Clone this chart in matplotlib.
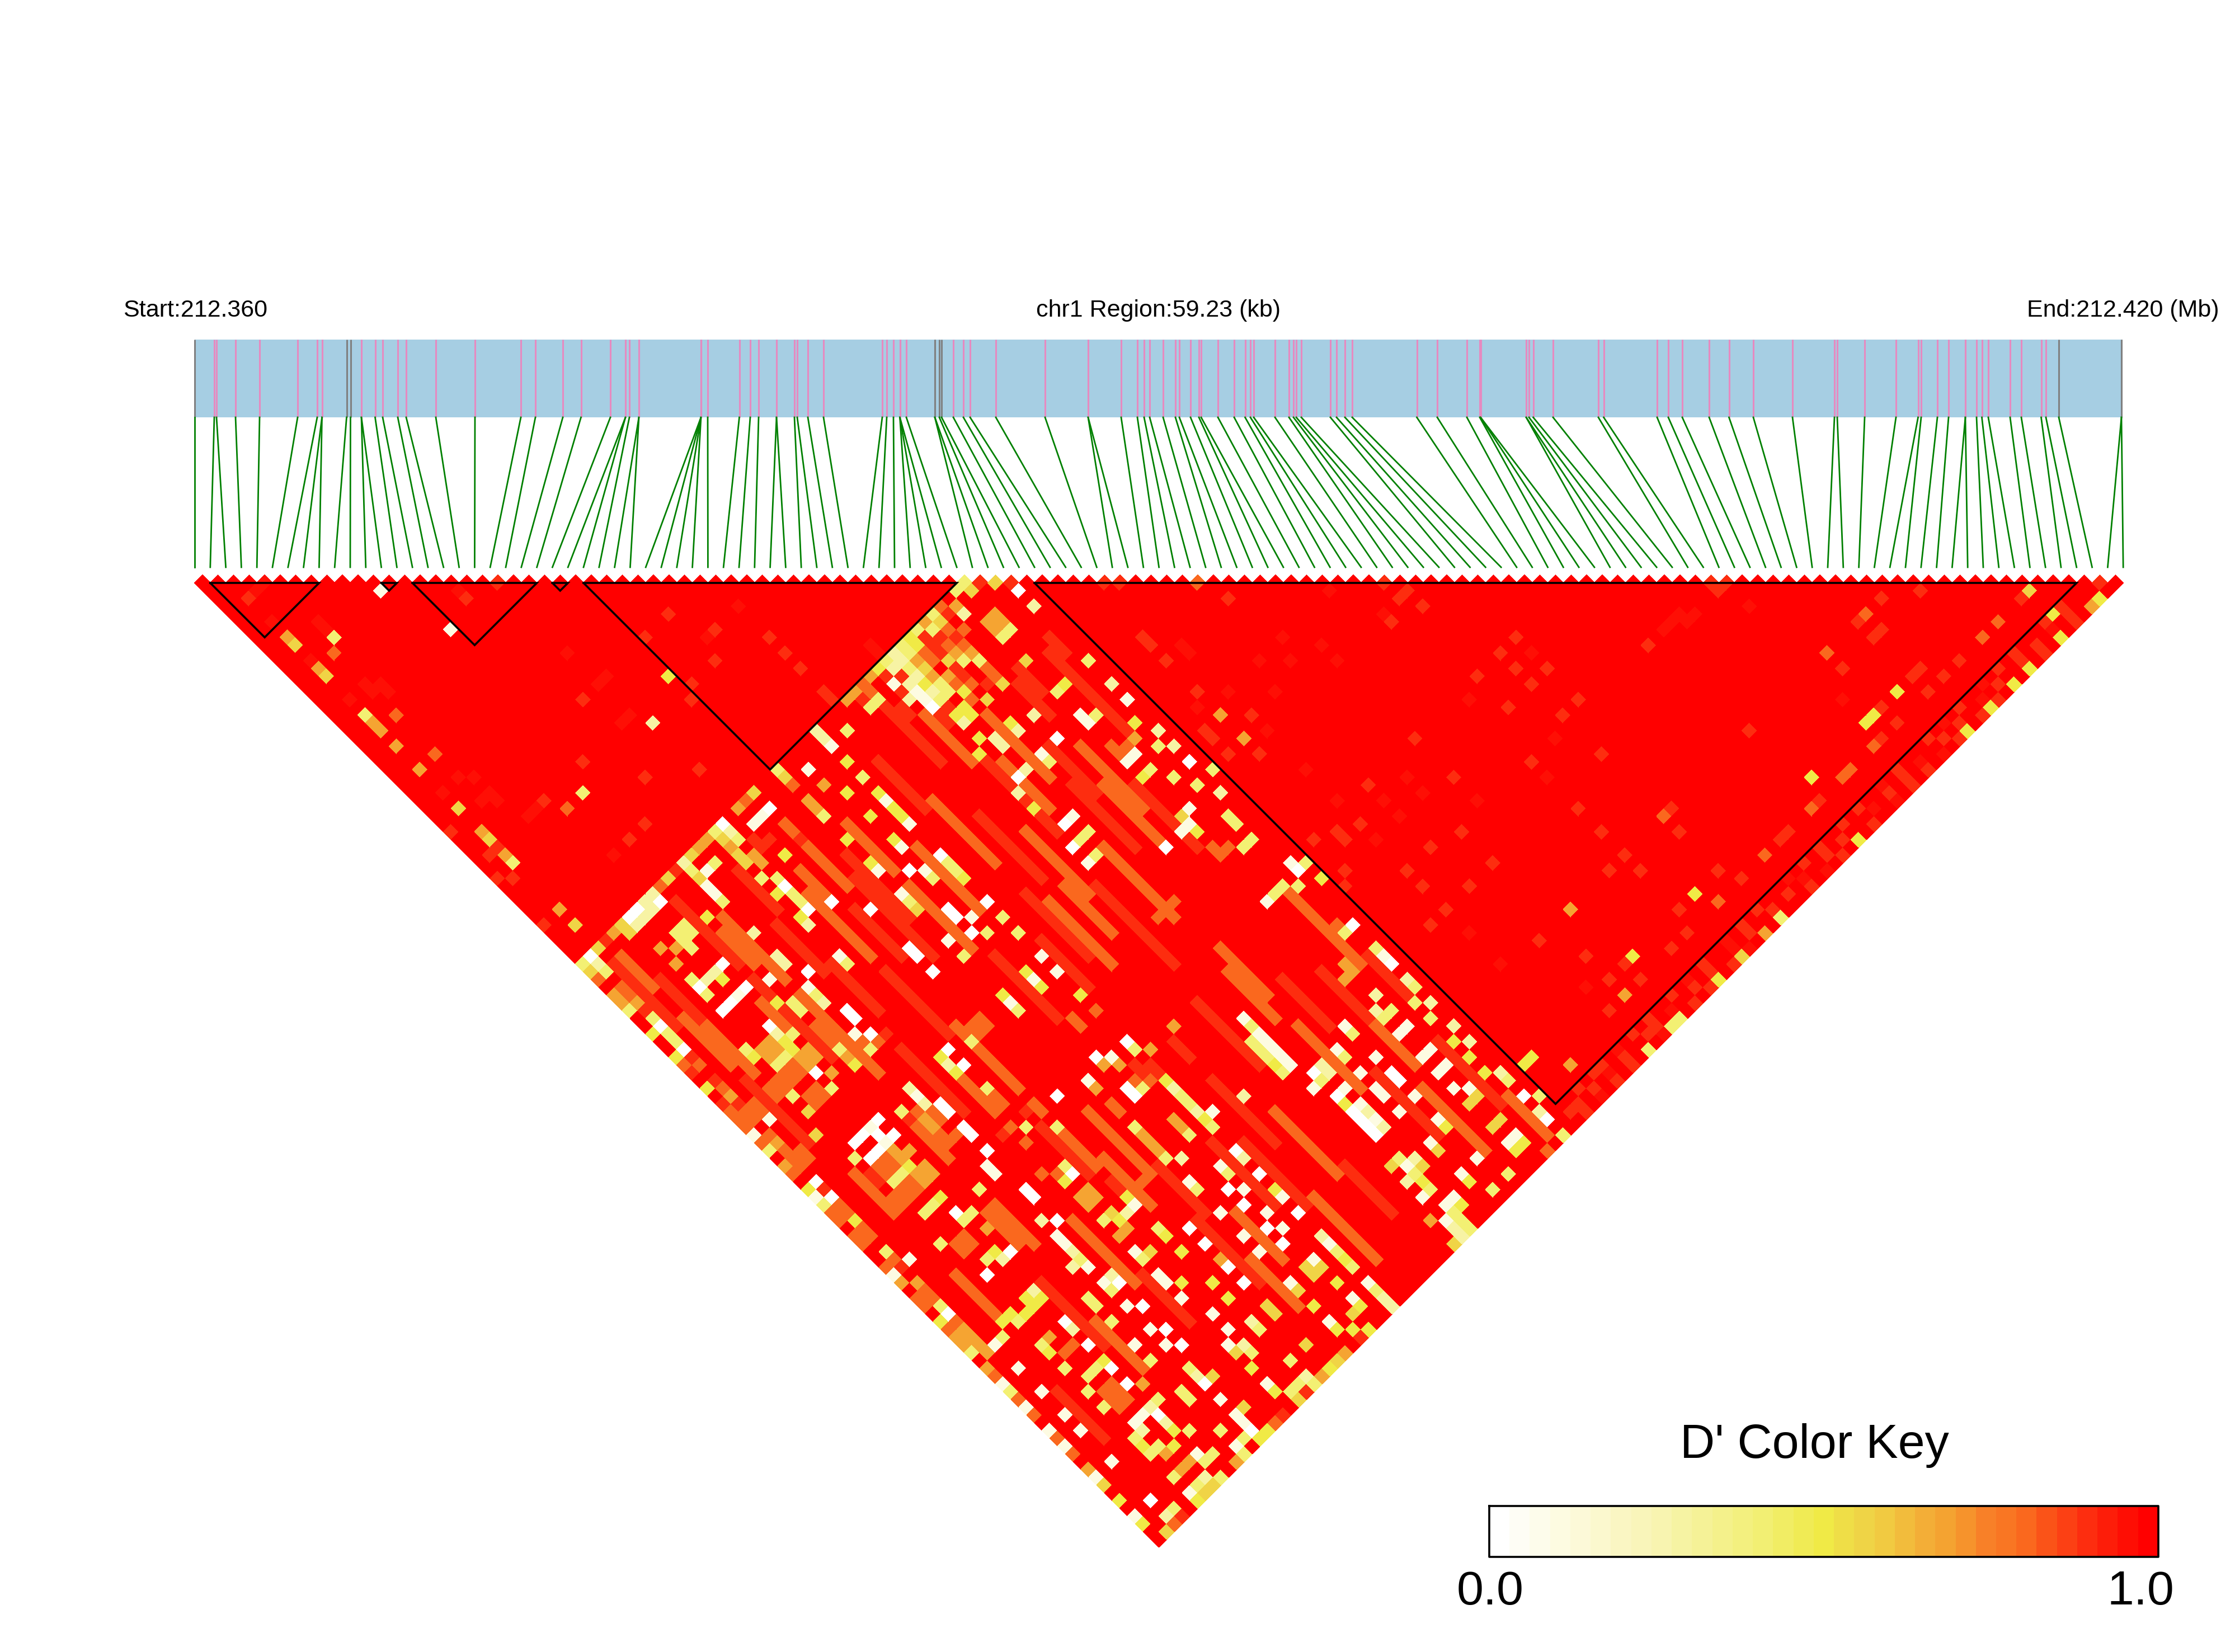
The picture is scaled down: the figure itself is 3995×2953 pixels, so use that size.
import numpy as np
import matplotlib
matplotlib.use("Agg")
import matplotlib.pyplot as plt
from matplotlib.collections import PolyCollection
from matplotlib.colors import LinearSegmentedColormap, Normalize

plt.rcParams['font.family'] = ['Liberation Sans', 'DejaVu Sans']

# All D' values below are estimates.
N_SNP = 125
REGION_LABEL = "chr1 Region:59.23 (kb)"
START_LABEL = "Start:212.360"
END_LABEL = "End:212.420 (Mb)"

# SNP positions along the region, in bar units (0 .. 3446)
SNP_POS = [0,35,39,73,116,184,219,227.5,227.5,271.5,278.5,298,298,322.5,336,363,378,431,501,583,609,658,690.5,743,770,770,777,794,794,905,905,905,905,917,
973.5,993,1008,1040,1040,1072,1077,1096,1124,1229,1237,1249,1260.5,1260.5,1260.5,1272,
1323,1323,1331,1335,1356,1374,1386,1432,1520,1597,1597,1656,1685,1697,1707,1731,1753,1760,1780,1795,1799,1829,1858,1877.5,1887,1893,1931,1956,1964,1969,1978,2030,2041,2056,2069,2184.5,2221,2274,2297,2298.5,2298.5,
2380,2380,2385,2392.5,2428,2509,2518.5,2614,2634,2659,2707,2742.5,2786,2856,2931,2936,2985,3041,3080.5,3086,3115,3135,3165,3165,3185,3194.5,3206,3245,3265,3300.5,3309,3332,3444,3444]
GRAY_SNPS = [0,9,10,50,51,52,53,122,123,124]

# LD blocks: first and last SNP index
BLOCKS = [(1,8),(12,13),(14,22),(23,24),(25,49),(54,121)]

# Code -> D'
LEVELS = {'.':1.0,'9':.95,'8':.89,'7':.79,'6':.67,'5':.57,'4':.5,'3':.42,'2':.28,'1':.1,'0':0.0}

# D' codes for SNP 0 and SNP 1 against SNP j = 50..124 (read cell by cell along the lower-left edge)
EDGE_ROWS = [
"357.663..4 ..478.4.87 77173.67.4 1377.77..7 16.77.4766 3.6713717. 1717.615.4 .14..",
"023.776830 3308 7.8 7 68 77.767 87.0 8 077 4 7 7.3 78 .677 3 07 66 66",
]

# Stripes along one SNP: "i,j0,j1,code"
MID_RUNS = """
11,81,81,8 11,82,86,7 12,81,81,7 12,82,83,6 12,84,85,7 13,82,83,7 13,85,85,7 17,82,84,7 17,85,86,7 18,85,86,7 20,81,86,7 20,78,80,7 21,79,80,7 22,79,80,7
4,81,84,7 5,82,83,8 4,85,86,7 5,85,86,7 8,85,86,6 9,85,86,6 6,85,86,7 7,85,86,7 8,82,83,6 7,82,83,7 6,82,83,7 6,92,93,7 7,92,93,7 9,93,93,6 10,92,96,7 11,92,97,7
20,88,89,7 19,88,88,8 16,88,88,8 17,88,88,7 17,90,90,7 16,93,93,7 17,94,94,7 1,74,74,6 1,76,77,7 2,76,77,7 4,76,76,5
28,85,86,7 30,86,86,7 34,92,92,6 33,93,95,8 28,93,93,7 29,92,93,8 29,94,94,7 30,93,94,8 31,92,92,6 25,93,94,7 28,98,99,6 25,97,100,6 20,92,96,7 20,98,99,8
17,97,98,6 18,97,98,6 17,100,100,3 18,100,100,5 18,101,101,4 19,101,101,2 20,101,101,1 20,100,100,4 22,100,100,7 17,102,102,6 18,102,102,6 22,110,110,6
6,111,112,7 7,111,113,7 6,113,113,7 6,104,104,6 7,106,106,7 6,106,106,7 6,119,119,6 7,121,121,6 6,121,121,6
20,58,62,7 11,57,61,7 17,53,54,5 18,54,55,6 25,54,55,6 25,52,52,7 51,59,61,8 48,70,71,7 49,71,71,7 50,71,71,6 48,83,84,7 49,84,84,7 51,96,96,7 49,99,100,6 48,100,100,6 50,100,100,6 41,85,85,7 40,84,84,7 42,84,84,7
10,52,60,8 12,56,64,7 16,66,72,8 19,70,78,8 21,64,70,8 24,60,68,8 26,58,64,7 29,64,72,7 32,56,62,8 33,62,70,7 35,66,74,8 37,70,78,7 42,60,68,7 44,66,72,8 46,68,76,7 47,74,82,8
34,76,84,7 31,78,84,8 23,92,100,7 24,100,106,8 15,98,106,7 16,106,112,8 9,100,108,8 10,106,112,7 3,108,114,8 4,94,100,7 3,60,66,7 4,56,62,8 2,52,60,8 3,52,56,7
42,90,96,7 44,96,102,8 47,104,110,7 50,60,70,8 50,90,100,7 51,100,106,8 36,54,60,8 38,56,62,7 43,52,56,8 45,54,58,7 46,60,64,8 15,76,84,8 19,90,96,8 21,96,102,7
23,106,114,8 24,112,118,7 26,108,114,7 29,102,110,8 31,104,112,8 32,112,120,7 33,98,106,8 35,104,112,7 36,112,118,8 37,92,100,8 41,92,98,7 42,100,108,7 44,108,116,8 46,112,120,7 47,98,104,8 50,110,118,8 51,118,123,7
47,59,62,8 36,55,60,8 39,63,72,8 40,64,70,7 41,76,84,7 43,70,78,8 45,72,80,7 38,78,88,8 36,76,82,7 33,74,82,8 27,76,84,8 26,66,74,7 23,62,72,8 22,54,62,7 19,60,68,7 16,54,58,8 15,60,66,8 12,66,76,7 10,62,72,8 9,64,68,7 3,68,76,8 4,62,68,7
"""

# Individual light cells in the same block: "i,j,code"
MID_SPOTS = """
8,66,0 8,67,2 8,68,4 8,69,4 9,68,3 5,66,3 5,67,4 6,67,6 7,67,6 6,68,6 7,68,6 6,69,3 7,69,3 7,70,7 6,70,7 7,71,7 6,71,7
8,70,6 9,71,6 9,70,6 8,71,6 8,72,0 9,73,6 8,74,3 4,70,7 5,71,7 5,70,7 4,71,7 5,72,3 5,74,5 7,73,7 6,73,7 7,74,7 6,74,7
2,71,7 2,70,7 2,72,1 14,70,0 14,71,0 13,72,1 14,73,0 14,74,7 13,73,7 13,74,3 15,74,8
11,69,7 11,70,7 11,71,7 11,72,3 11,73,6 11,74,4 11,67,3
18,79,0 17,79,4 17,80,2 18,81,0 17,81,4 20,80,3 13,79,2 13,80,1 13,81,2 14,82,0 14,83,0 14,85,0 14,86,0 18,84,3 18,89,3 22,89,0 20,91,3
11,80,3 9,79,0 8,79,1 7,79,0 6,79,0 8,80,0 9,81,0 8,81,1 7,81,0 6,81,0 5,80,3 9,83,6 8,84,4 7,84,3 6,84,3
8,88,4 7,88,3 6,88,3 8,90,0 8,91,3 9,91,3 14,88,0 13,89,1 13,90,1 11,90,3 14,93,0 14,94,0 5,91,3 8,95,4 7,95,3 6,96,0 8,96,2 9,96,0
8,100,2 8,101,4 7,100,4 7,101,4 5,100,4 5,101,2 6,101,4 13,96,2 14,97,0 13,98,1 2,90,1
22,106,0 22,108,0 30,90,0 27,89,0 28,90,1 25,90,1 27,93,0 27,94,0 30,95,4 30,96,2 28,94,3 25,96,3 30,97,3 30,98,3 30,99,2 30,100,4 30,101,3 31,100,1 28,100,3 25,100,3 26,101,2
30,104,0 30,105,2 30,107,0 30,109,4 30,110,1 30,112,0 28,104,1 28,105,3 27,106,0 28,107,1 27,108,0 25,107,1 25,103,1 25,104,3 28,110,1 27,111,0 28,112,1 27,113,0 25,110,1 25,112,1
30,115,2 30,116,1 30,117,3 30,118,4 30,119,3 28,116,1 27,116,5 28,117,5 27,117,5 28,119,4 25,116,1 25,117,5 30,121,1 30,122,3 30,123,2 30,124,2 28,121,1 28,122,4 27,122,5 25,119,4 25,121,1 25,122,4 26,123,4 27,124,4
39,98,1 39,99,1 39,100,1 39,101,1 39,102,1 38,98,3 38,99,3 38,100,3 38,101,4 38,102,3 39,96,1 39,97,3 40,104,0 41,104,2 41,105,2 39,105,1 40,105,3 40,107,0 41,107,1 43,107,1 45,103,1 45,104,3 43,104,1 43,105,3 45,107,1
40,108,4 40,109,0 41,109,1 43,109,1 41,111,1 40,111,0 45,109,0 39,115,5 34,101,2
20,104,3 20,105,4 20,107,4 17,104,1 17,105,3 18,105,5 20,111,4 20,113,4 17,107,1 18,109,4 22,111,0 22,113,0 13,104,1 14,105,0 14,104,2 13,105,3 11,104,3 11,105,3 13,107,1 14,108,0 11,107,3
13,110,1 14,111,0 17,108,1 17,110,1 13,99,1 13,100,2 13,101,3 13,102,1 12,101,2 8,104,0 8,105,2 22,116,5 22,117,5 20,116,2 20,117,3 18,115,1
5,101,3 4,100,4 6,101,4 8,107,0 8,109,4 8,110,0 7,109,3 6,109,3 8,112,0 9,113,6 13,112,1 14,113,0 11,110,1 11,112,3 18,113,1 17,116,1 18,117,2 18,118,3 17,117,5 17,119,4
22,121,5 20,121,3 17,121,1 17,122,4 20,123,2 19,123,3 18,123,3 13,115,3 13,116,2 13,117,0 11,116,3 11,117,3 14,117,5 13,119,1
9,115,3 8,115,2 8,116,0 7,115,1 6,115,1 5,116,3 6,116,2 8,117,2 8,118,4 9,119,3 6,118,3 5,118,3 5,117,4 7,119,4 8,121,1 9,122,3 8,122,3 5,121,3 7,123,2 6,123,3 5,123,1
13,121,1 13,122,1 13,123,0 12,123,3 11,123,1 11,121,3 14,121,5 2,107,1 2,110,1 2,112,1 2,104,1 5,107,3 5,110,3 5,112,3 5,104,3 5,105,4 2,101,1 3,101,3
2,116,1 2,121,0 3,123,3 2,123,2
18,50,0 18,51,2 18,52,3 17,50,3 17,51,5 17,52,6 16,50,6 15,50,6 14,50,5 13,50,2 13,51,3 13,52,5 12,50,8 11,50,5 10,50,7 9,50,2 8,50,2 7,50,0 9,51,0 8,51,2 7,51,2 6,50,0 5,50,5 6,51,2 5,51,5 4,50,6 3,50,8 2,50,5
15,52,3 14,52,1 8,54,3 9,55,3 9,54,3 8,55,3 6,54,6 7,55,6 8,56,3 18,58,0 18,57,3 17,58,4 18,59,3 18,60,3 18,61,0 17,61,4 17,62,2 20,62,0 17,56,3 6,56,6
13,53,1 13,54,1 13,55,3 11,55,4 13,59,2 13,62,2 13,63,2 11,63,1 14,65,0 13,66,1 13,67,3 13,68,2 17,66,1 17,67,3 6,59,0 7,59,2 9,59,0 8,59,2 6,62,0 7,62,0 8,62,1 9,62,0 6,60,3 8,60,4 6,58,3
22,50,5 21,50,7 20,50,6 22,52,0 21,52,1 20,52,1 25,50,3 25,51,5 25,56,3 27,52,1 30,54,4 30,51,2 30,52,1 30,50,2
52,101,1 52,104,2 52,105,3 52,107,2 51,106,3 51,108,3 52,110,2 51,111,4 52,112,2 51,113,4 51,115,4 52,116,2 52,117,3 52,119,0 53,120,3 52,121,2 52,122,0 52,124,3 50,124,7
49,103,2 48,104,2 48,105,3 49,105,3 49,107,1 48,107,1 49,110,1 48,110,1 49,112,1 48,112,1 45,110,0 45,112,1 43,110,1 43,112,1 40,112,0 41,112,2 40,110,0 41,110,2
45,115,1 45,116,4 43,116,1 43,117,5 49,115,1 48,114,1 49,116,5 48,116,5 48,119,5 49,119,5 49,121,1 48,121,1 49,122,4 48,122,4 45,120,1 46,123,3 44,123,3 43,120,1 43,121,4
40,116,1 40,115,3 41,116,2 41,117,5 40,117,3 40,118,4 39,117,2 39,119,1 40,119,3 41,121,1 40,121,1 41,122,4 40,122,3 39,122,1 39,123,2 40,123,3 40,124,3 39,124,2 38,124,5 38,121,6
49,50,3 48,50,3 49,51,5 47,52,2 52,54,0 52,56,2 49,56,3 48,56,3 49,54,6 49,55,6 48,54,6 48,55,6 48,59,5 52,63,3 48,63,3 49,63,4 45,63,2 43,59,5 45,59,5
39,54,1 39,55,1 39,53,2 41,55,3 36,52,3 38,52,1 40,59,2 40,58,4 41,59,4 40,61,4 52,68,1 52,66,2 48,66,1 48,67,1 49,67,3 51,70,4 52,72,2 52,76,0 53,78,3 52,80,2
45,80,0 48,72,1 49,72,1 48,80,1 51,85,3 48,90,1 50,51,8 51,52,5 52,53,8 53,54,.
1,124,5 2,124,7 3,124,8 4,124,. 5,124,4 6,124,5 7,124,5 8,124,3 9,124,. 10,124,6 11,124,3 12,124,. 13,124,4 14,124,4 15,124,7 16,124,8 17,124,. 18,124,5 19,124,8 20,124,3 21,124,6 22,124,4 23,124,5 24,124,6 25,124,. 26,124,8
"""

# Further cells read along the j = 50..58 edge and the upper band
MID_SPOTS_UPPER = """
46,50,7 45,50,3 44,50,6 43,50,3 42,50,4 41,50,3 40,50,2 39,50,3 38,50,4 37,50,6 36,50,7 35,50,6 34,50,6
47,51,6 46,51,8 45,51,5 44,51,3 43,51,8 42,51,4 41,51,3 40,51,2 39,51,2 38,51,8 36,51,7 35,51,8
45,52,7 44,52,8 42,52,7 41,52,6 40,52,3 39,52,8 35,52,3
46,53,7 45,53,8 44,53,7 42,53,7 41,53,5 40,53,2 38,53,8 36,53,8
45,54,7 44,54,6 43,54,5 41,54,6 40,54,4 39,54,1 38,54,2 37,54,8 36,54,8
45,55,6 44,55,3 43,55,8 42,55,6 41,55,3 40,55,2 37,55,8
45,56,3 43,56,8 42,56,7 41,56,3 40,56,3 39,56,0
45,57,7 43,57,7 42,57,4 40,57,8 39,57,8 38,57,7
45,58,7 44,58,8 42,58,7 41,58,4 39,58,8
32,52,3 30,56,3 30,58,4 30,59,1 30,60,4 30,61,4 30,62,1 28,59,4 25,59,4 28,62,4 28,63,1 25,62,4 25,63,1
30,66,0 30,67,3 30,68,3 30,69,4 27,65,0 28,66,1 28,67,3 25,66,1 25,67,3 25,68,5
30,72,0 30,74,3 27,70,0 27,71,0 28,72,1 27,73,0 28,74,3 25,72,1 25,74,3
22,65,0 22,70,0 22,71,0 22,73,0 30,76,3 30,79,1 30,81,1 28,79,4 28,80,1 28,81,4 25,79,4 25,80,1 30,84,4
39,74,0 40,74,3 41,74,3 40,76,3 39,76,1 40,72,0 41,72,1 41,66,2 40,66,0 39,67,2 39,69,4 43,66,1 43,67,3 43,62,4 43,63,2
41,62,2 41,63,2 39,62,4 45,66,0 52,74,2 51,73,3 49,74,3 48,74,4 51,78,3 50,76,3
49,79,1 47,80,1 48,81,4 48,79,5 51,82,3 51,83,3 50,85,3 49,90,3 50,90,3 51,91,3 53,90,3 52,89,1 52,90,0 53,92,4
51,97,3 52,97,0 52,100,3 52,102,0 16,59,8 20,54,8 19,54,8 19,53,8 20,56,4 22,56,8 27,54,6 28,56,4 25,81,3 17,95,4 18,95,0 18,94,3 28,91,6 27,90,6 30,91,3 25,91,6
10,65,4 11,66,3
"""

# Sparse off-red cells in the two high-LD blocks: "i,j,code"
LEFT_BLOCK_SPOTS = """
3,5,9 4,5,9 2,5,8 2,8,9 5,11,9 5,12,9 5,13,3 4,14,7 2,10,6 2,11,5 2,13,9 2,14,6 2,15,5 4,18,9 5,19,9 4,19,9 5,20,9 2,18,9 2,20,3 2,21,6 2,22,6
4,22,7 2,24,6 4,27,7 2,27,6 4,30,9 5,31,9 2,30,9 2,32,5 5,33,9 4,33,9 5,34,9 0,33,8 2,35,6 2,36,5 2,37,8 1,37,8 2,38,6 2,39,3 0,39,8 1,40,8
2,45,6 0,45,8 2,47,5 11,39,3 20,39,2 24,37,4 13,20,1 11,13,1 19,29,9 28,33,8 33,37,9 16,18,9 16,19,8 19,20,8 8,37,8 7,37,9 6,37,9 9,39,7 13,37,8 16,42,8 13,45,8 11,45,8 20,45,8 9,45,9
17,33,8 20,33,9 19,33,9 19,37,9 18,37,9 28,39,8 33,41,8 33,43,8 33,45,8 30,37,8 29,37,9 25,39,8 24,40,8 25,33,8 39,48,9 39,49,9 33,48,8 33,49,8
"""
RIGHT_BLOCK_SPOTS = """
117,119,5 116,119,8 121,124,4 120,124,6 117,122,4 116,124,4 112,124,4 110,124,4 107,124,4 104,124,4 102,117,4 99,117,4 98,117,4 91,117,4 94,119,7 93,119,7 100,110,7 105,110,7 104,110,8
90,124,4 76,117,4 72,124,4 78,124,6 80,124,3 75,124,5 66,124,3 63,124,3 68,117,4 67,110,6 54,117,4 55,117,4 57,120,6 65,119,6 89,119,7 77,119,7 83,119,7 85,119,8 86,119,8 111,119,7 113,119,7
93,98,9 94,99,9 93,99,9 92,98,9 97,99,8 68,77,9 81,89,8 79,89,8 81,91,9 79,91,8 76,89,8 74,90,9 81,93,8 79,93,8 76,93,8 81,97,8 79,97,8 68,89,8 77,98,9 79,102,8 74,98,8 59,84,9 65,91,9 68,94,8 62,89,8 74,100,9
65,93,9 59,88,9 62,91,9 68,97,9 62,93,9 59,91,8 65,98,8 62,97,8 59,93,9 65,102,8 59,97,8 55,93,8 62,102,8 59,99,8 59,102,8 57,102,8 59,105,9 63,110,8 65,114,8 59,109,9 65,117,8 63,116,9 63,119,8
74,104,8 80,110,8 79,110,7 79,112,8 74,110,8 72,110,8 74,112,8 79,117,8 80,119,8 74,117,8 73,119,8 71,119,8 74,107,8 67,117,8 67,119,8 100,112,8 110,112,8 107,110,8 105,112,8 104,112,8 105,117,8 104,117,8 100,117,8
100,119,8 98,119,8 97,119,7 98,114,9 90,110,8 108,119,8 106,119,8 104,119,8 90,119,8 98,102,9 91,98,9 89,98,8 74,79,8 74,80,8 77,81,8 77,79,8 76,79,8 72,74,8 76,77,8
57,65,8 57,66,8 57,68,8 59,68,9 59,69,9 65,68,8 72,74,9 63,74,9 65,76,9 68,79,9 66,74,9 68,77,9 74,79,9 57,72,8 59,74,9 62,77,9 57,75,6 59,77,8 57,78,6 59,79,9 57,80,8 55,78,8 55,76,8 55,75,8 56,73,9 55,89,8 57,90,8 57,91,8 54,94,8
64,65,7 58,59,8 59,60,8 76,77,8 97,98,8 98,99,8 122,123,8
"""
# Outer band (SNP 54..121 against SNP 122, 123 and 124)
BAND_J122 = "..8.88.9.8.8..8.9.8..9.8.8...9.8.8..8.8..9.8...8.9.8..9.8.8...8.8.."
BAND_J123 = "88.8.9.8..88.9..8.8..9.8..8.8.9..8.8...9.8.8.9..8.8..9.8..8.8.9.8.."
BAND_J124 = ".8.9.8.8.8.9.3.8.8..8.9.8.8...8.9.8.8.8..9.8.8.9.8..8.8.9.8.8.8.8.."

KEY_TITLE = "D' Color Key"
KEY_LABELS = ["0.0", "1.0"]

CMAP_ANCHORS = [(0,'#ffffff'),(.1,'#fdfbe0'),(.25,'#f8f4b0'),(.4,'#f3f076'),(.5,'#f0ea46'),(.55,'#efd848'),
                (.6,'#f2c840'),(.65,'#f3b038'),(.7,'#f5a030'),(.75,'#f88028'),(.8,'#fa7020'),(.85,'#fb5018'),
                (.9,'#fd3010'),(.95,'#fe1808'),(1,'#ff0000')]
cmap = LinearSegmentedColormap.from_list('dprime', CMAP_ANCHORS, N=33)
norm = Normalize(0, 1)

# --- build D' matrix ---
D = np.ones((N_SNP, N_SNP))
for i, row in enumerate(EDGE_ROWS):
    s = row.replace(' ', '').ljust(75, '.')[:75]
    for k, c in enumerate(s):
        D[i, 50 + k] = LEVELS[c]
for band, j in ((BAND_J122, 122), (BAND_J123, 123), (BAND_J124, 124)):
    for k, c in enumerate(band):
        i = 54 + k
        if i < j:
            D[i, j] = LEVELS[c]
for tok in MID_RUNS.split():
    a, j0, j1, c = tok.split(',')
    D[int(a), int(j0):int(j1) + 1] = LEVELS[c]
for text in (MID_SPOTS, MID_SPOTS_UPPER, LEFT_BLOCK_SPOTS, RIGHT_BLOCK_SPOTS):
    for tok in text.split():
        a, b, c = tok.split(',')
        D[int(a), int(b)] = LEVELS[c]

# --- figure ---
fig = plt.figure(figsize=(39.95, 29.53), dpi=100)
ax = fig.add_axes([0, 0, 1, 1])
ax.set_xlim(0, 3995)
ax.set_ylim(2953, 0)
ax.axis('off')

X0, PITCH, Y0 = 348.0, 27.8, 1042.0
polys, vals = [], []
for i in range(N_SNP):
    for j in range(i + 1, N_SNP):
        cx = X0 + (i + j) / 2 * PITCH
        cy = Y0 + (j - i - 1) * PITCH / 2
        h = PITCH / 2
        polys.append([(cx - h, cy), (cx, cy - h), (cx + h, cy), (cx, cy + h)])
        vals.append(D[i, j])
pc = PolyCollection(polys, array=np.array(vals), cmap=cmap, norm=norm, edgecolors='face', linewidths=0.4, antialiaseds=False)
ax.add_collection(pc)

for a, b in BLOCKS:
    xa, xb = X0 + a * PITCH, X0 + b * PITCH
    ax.plot([xa, xb, (xa + xb) / 2, xa], [Y0, Y0, Y0 + (b - a) * PITCH / 2, Y0], color='black', lw=2.6, solid_joinstyle='miter')

# --- SNP bar ---
BAR_TOP, BAR_BOT, LINE_BOT = 607, 746, 1014
ax.fill_between([X0, X0 + 3446], BAR_TOP, BAR_BOT, color='#a6cee3', lw=0)
for idx, p in enumerate(SNP_POS):
    x = X0 + p
    ax.plot([x, x], [BAR_TOP, BAR_BOT], color='#808080' if idx in GRAY_SNPS else '#e68ac0', lw=2.2, solid_capstyle='butt')
    ax.plot([x, X0 + idx * PITCH], [BAR_BOT, LINE_BOT], color='#008000', lw=2.0)

ax.text(349, 555, START_LABEL, ha='center', va='center', fontsize=31)
ax.text(2071, 555, REGION_LABEL, ha='center', va='center', fontsize=31)
ax.text(3795, 555, END_LABEL, ha='center', va='center', fontsize=31)

# --- colour key ---
grad = np.linspace(0, 1, 33)[None, :]
ax.imshow(grad, extent=[2662, 3858, 2783, 2692], cmap=cmap, norm=norm, aspect='auto', interpolation='nearest', zorder=2)
ax.plot([2662, 3858, 3858, 2662, 2662], [2692, 2692, 2783, 2783, 2692], color='black', lw=2.6, zorder=3)
ax.set_xlim(0, 3995)
ax.set_ylim(2953, 0)
ax.text(3243, 2606, KEY_TITLE, ha='center', va='baseline', fontsize=62)
ax.text(2664, 2868, KEY_LABELS[0], ha='center', va='baseline', fontsize=62)
ax.text(3826, 2868, KEY_LABELS[1], ha='center', va='baseline', fontsize=62)

fig.savefig('out.png', dpi=100, facecolor='white')
